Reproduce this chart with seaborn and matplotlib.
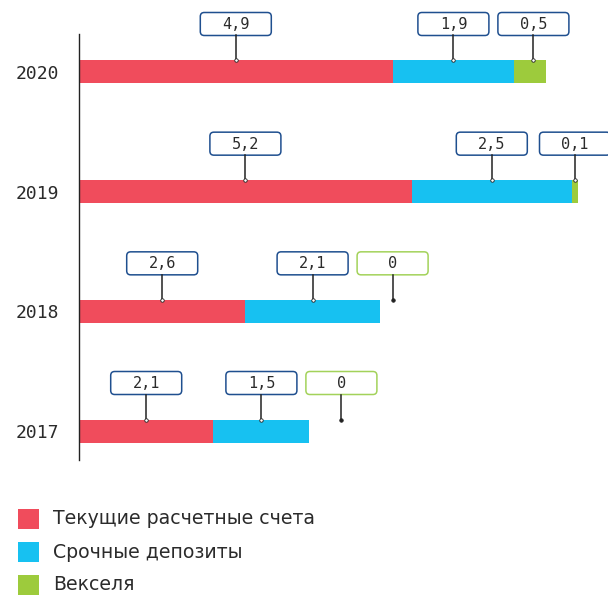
import matplotlib
matplotlib.use("Agg")
from matplotlib import pyplot as plt
import matplotlib.transforms as mtransforms
from matplotlib.patches import FancyBboxPatch, Rectangle
from matplotlib.lines import Line2D
import numpy as np
import pandas as pd
import seaborn as sns

years = ["2020", "2019", "2018", "2017"]
current = [4.9, 5.2, 2.6, 2.1]
deposits = [1.9, 2.5, 2.1, 1.5]
bills = [0.5, 0.1, 0.0, 0.0]
series_names = ["Текущие расчетные счета", "Срочные депозиты", "Векселя"]
colors = ["#F04C5C", "#17C1F1", "#9DCB3C"]

navy = "#1F4F8F"
green_edge = "#A3D25A"
text_col = "#2b2b2b"

df = pd.DataFrame({"year": years, "current": current, "deposits": deposits, "bills": bills})
df["c1"] = df["current"]
df["c2"] = df["current"] + df["deposits"]
df["c3"] = df["c2"] + df["bills"]

W, H = 608, 596
fig = plt.figure(figsize=(W / 100, H / 100), dpi=100)
ax = fig.add_axes([79 / W, 1 - 460 / H, 529 / W, 426 / H])

px_unit = 64.0
bar_h = 23 / 119.67

# stacked bars: draw cumulative totals from back to front
for col, c in zip(["c3", "c2", "c1"], colors[::-1]):
    sns.barplot(data=df, x=col, y="year", order=years, orient="h", color=c,
                saturation=1, width=bar_h, linewidth=0, ax=ax)

ax.set_xlim(0, 529 / px_unit)
ax.set_ylim(3 + 29 / 119.67, -38 / 119.67)
ax.set_xlabel("")
ax.set_ylabel("")
ax.set_xticks([])
for s in ["top", "right", "bottom"]:
    ax.spines[s].set_visible(False)
ax.spines["left"].set_color("#222222")
ax.spines["left"].set_linewidth(1.0)
ax.tick_params(axis="y", length=0, pad=14)
for t in ax.get_yticklabels():
    t.set_fontfamily("DejaVu Sans Mono")
    t.set_fontsize(13)
    t.set_color(text_col)

# value callouts
min_step = 80 / px_unit
for i, yr in enumerate(years):
    vals = [current[i], deposits[i], bills[i]]
    starts = [0, current[i], current[i] + deposits[i]]
    prev = None
    for j, v in enumerate(vals):
        cx = starts[j] + v / 2
        if prev is not None:
            cx = max(cx, prev + min_step)
        prev = cx
        trans = fig.dpi_scale_trans + mtransforms.ScaledTranslation(cx, i, ax.transData)
        edge = green_edge if v == 0 else navy
        box = FancyBboxPatch((-0.355, 0.365), 0.71, 0.23,
                             boxstyle="round,pad=0,rounding_size=0.04",
                             facecolor="white", edgecolor=edge, linewidth=1.1,
                             transform=trans, clip_on=False)
        ax.add_artist(box)
        ln = Line2D([0, 0], [0.115, 0.365], color="#222222", linewidth=1.1,
                    transform=trans, clip_on=False)
        ax.add_artist(ln)
        mk = Line2D([0], [0.115], marker="o", markersize=2.5,
                    markerfacecolor="white" if v > 0 else "#222222",
                    markeredgecolor="#222222", markeredgewidth=0.6,
                    transform=trans, clip_on=False)
        ax.add_artist(mk)
        lbl = f"{v:g}".replace(".", ",")
        ax.text(0, 0.475, lbl, transform=trans, ha="center", va="center",
                fontfamily="DejaVu Sans Mono", fontsize=11, color=text_col,
                clip_on=False)

# legend
for k, (name, c) in enumerate(zip(series_names, colors)):
    top = 509 + 33 * k
    fig.add_artist(Rectangle((18 / W, 1 - (top + 20) / H), 21 / W, 20 / H,
                             transform=fig.transFigure, facecolor=c, edgecolor="none"))
    fig.text(53 / W, 1 - (top + 10) / H, name, ha="left", va="center",
             fontsize=13.6, color=text_col, fontfamily="DejaVu Sans")

fig.savefig("out.png", dpi=100)
